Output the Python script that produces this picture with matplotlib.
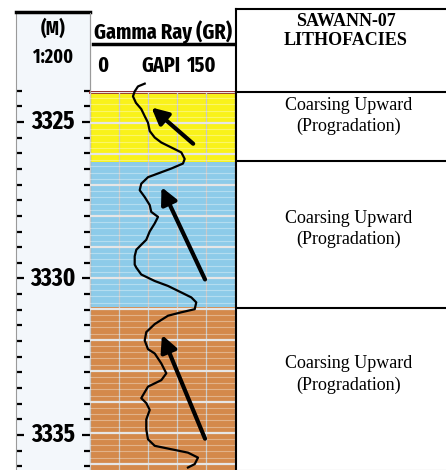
import os
import matplotlib
matplotlib.use('Agg')
import matplotlib.pyplot as plt
from matplotlib.lines import Line2D
from matplotlib import font_manager
import numpy as np

# figure size in pixels
W, H = 446, 470

# ---- data read from the log ----
# gamma ray curve (depth in m, value in GAPI)
gr_depth = [3323.73, 3323.82, 3323.98, 3324.14, 3324.35, 3324.55, 3324.78, 3324.99,
            3325.26, 3325.47, 3325.63, 3325.79, 3325.95, 3326.16, 3326.31, 3326.47,
            3326.59, 3326.75, 3326.96, 3327.17, 3327.39, 3327.65, 3327.87, 3328.03,
            3328.24, 3328.50, 3328.77, 3328.93, 3329.09, 3329.30, 3329.57, 3329.67,
            3329.89, 3330.10, 3330.26, 3330.47, 3330.63, 3330.79, 3331.01, 3331.11,
            3331.22, 3331.49, 3331.75, 3332.02, 3332.30, 3332.44, 3332.76, 3333.08,
            3333.30, 3333.51, 3333.88, 3334.04, 3334.26, 3334.57, 3334.89, 3335.21,
            3335.42, 3335.53, 3335.64, 3335.80, 3336.01, 3336.12]
gr_value = [56.8, 49.8, 46.4, 44.6, 47.7, 53.2, 56.8, 60.2,
            62.0, 67.2, 74.0, 84.4, 94.8, 98.3, 96.5, 84.4,
            74.0, 60.2, 53.2, 51.6, 56.8, 62.0, 63.6, 70.6,
            67.2, 62.0, 58.4, 53.2, 48.1, 46.4, 46.4, 48.1,
            53.2, 67.2, 81.0, 94.8, 105.2, 110.3, 108.7, 94.8,
            81.0, 67.2, 58.4, 56.8, 60.2, 67.2, 74.0, 79.2,
            74.0, 60.2, 53.2, 58.4, 62.0, 58.4, 58.4, 60.2,
            67.2, 84.4, 101.7, 112.1, 108.7, 101.7]

# lithofacies intervals
layer_top = [3324.0, 3326.25, 3330.95]
layer_base = [3326.25, 3330.95, 3336.2]
layer_color = ['#f9f21a', '#8dcbe9', '#d4894b']
facies_text = ['Coarsing Upward\n(Progradation)'] * 3

# trend arrows (tail -> tip)
arrow_tail_gr = [107.1, 119.4, 119.4]
arrow_tail_depth = [3325.67, 3330.05, 3335.19]
arrow_tip_gr = [63.8, 74.2, 74.7]
arrow_tip_depth = [3324.50, 3327.07, 3331.84]

depth_labels = [3325, 3330, 3335]
gr_min, gr_max = 0, 150
top_depth, bot_depth = 3324.04, 3336.12

serif = ['Liberation Serif', 'DejaVu Serif']


# the header text in the log is a narrow bold face, pick the narrowest bold one around
def _w(f):
    w = f.weight
    if isinstance(w, str):
        w = font_manager.weight_dict.get(w, 400)
    return int(w)


cond = [f for f in font_manager.fontManager.ttflist
        if (f.stretch != 'normal' or 'Narrow' in f.name or 'Condensed' in f.name)
        and f.style == 'normal']
cond.sort(key=lambda f: (abs(_w(f) - 700),
                         'extracond' not in os.path.basename(f.fname).lower().replace('-', ''),
                         'dejavu' not in f.fname.lower()))
if cond:
    NARROW_FILE = cond[0].fname
else:
    NARROW_FILE = font_manager.findfont(font_manager.FontProperties(family='Roboto', weight='bold'))


def nfont(size):
    return font_manager.FontProperties(fname=NARROW_FILE, size=size)


def box(x0, y0, x1, y1):
    return [x0 / W, 1 - y1 / H, (x1 - x0) / W, (y1 - y0) / H]


def fx(x):
    return x / W


def fy(y):
    return 1 - y / H


def fig_line(x, y, **kw):
    fig.add_artist(Line2D([fx(v) for v in x], [fy(v) for v in y],
                          transform=fig.transFigure, **kw))


fig = plt.figure(figsize=(W / 100, H / 100), dpi=100)
fig.patch.set_facecolor('white')
renderer = fig.canvas.get_renderer()


def fit(t, width):
    # scale a text to about the width it has in the log header
    # (a bit wider, the original face is narrower and taller than ours)
    bb = t.get_window_extent(renderer)
    t.set_fontsize(t.get_fontsize() * width * 1.08 / bb.width)
    return t.get_fontsize()


# ---- depth column ----
ax_dep = fig.add_axes(box(16, 12, 90, 470))
ax_dep.set_facecolor('#f3f7fb')
ax_dep.set_xlim(0, 1)
ax_dep.set_ylim(bot_depth, 3325 + (12 - 122) / 31.3)
ax_dep.set_yticks(depth_labels)
ax_dep.set_yticks(np.arange(3324, 3336.1, 0.5), minor=True)
ax_dep.set_xticks([])
ax_dep.tick_params(axis='y', which='both', left=True, right=True, direction='in',
                   labelleft=False, color='black', width=1.6)
ax_dep.tick_params(axis='y', which='major', length=6)
ax_dep.tick_params(axis='y', which='minor', length=4)
for s in ['left', 'right', 'bottom']:
    ax_dep.spines[s].set_color('#9a9a9a')
    ax_dep.spines[s].set_linewidth(0.8)
ax_dep.spines['bottom'].set_visible(False)
ax_dep.spines['top'].set_linewidth(2.5)
dep_txt = [ax_dep.text(0.5, d, str(d), transform=ax_dep.get_yaxis_transform(),
                       ha='center', va='center', fontproperties=nfont(16))
           for d in depth_labels]
size = fit(dep_txt[0], 40)
for t in dep_txt[1:]:
    t.set_fontsize(size)
fit(fig.text(fx(53.3), fy(29), '(M)', ha='center', va='center', fontproperties=nfont(13)), 23)
fit(fig.text(fx(53.3), fy(57), '1:200', ha='center', va='center', fontproperties=nfont(13)), 37)

# ---- gamma ray track ----
ax_trk = fig.add_axes(box(90, 92, 234.5, 470))
ax_trk.set_xlim(gr_min, gr_max)
ax_trk.set_ylim(bot_depth, top_depth)
for t, b, c in zip(layer_top, layer_base, layer_color):
    ax_trk.axhspan(t, b, color=c, lw=0, zorder=1)
ax_trk.set_xticks(np.arange(0, 151, 30))
ax_trk.set_yticks(np.arange(3324, 3337, 1))
ax_trk.set_yticks(np.arange(3324, 3336.3, 0.2), minor=True)
ax_trk.set_axisbelow(False)
ax_trk.grid(axis='x', which='major', color='#c9c9c9', lw=0.9)
ax_trk.grid(axis='y', which='major', color='#e6e6e6', lw=1.6)
ax_trk.grid(axis='y', which='minor', color='white', alpha=0.35, lw=0.8)
ax_trk.tick_params(which='both', length=0, labelleft=False, labelbottom=False)
ax_trk.spines['top'].set_color('#8b1a1a')
ax_trk.spines['top'].set_linewidth(2)
for s in ['left', 'right', 'bottom']:
    ax_trk.spines[s].set_color('#555555')
    ax_trk.spines[s].set_linewidth(0.8)
ax_trk.spines['bottom'].set_visible(False)

ax_trk.plot(gr_value, gr_depth, color='black', lw=1.6, zorder=4, clip_on=False)
for x0, y0, x1, y1 in zip(arrow_tail_gr, arrow_tail_depth, arrow_tip_gr, arrow_tip_depth):
    ax_trk.annotate('', xy=(x1, y1), xytext=(x0, y0), zorder=5,
                    arrowprops=dict(arrowstyle='-|>,head_length=0.7,head_width=0.35',
                                    lw=3.0, color='black', mutation_scale=14,
                                    shrinkA=0, shrinkB=0))

# track header
fit(fig.text(fx(162.5), fy(32), 'Gamma Ray (GR)', ha='center', va='center',
             fontproperties=nfont(15)), 129)
fig_line([93, 233], [44, 44], color='black', lw=2.5)
fig_line([90, 90], [13, 92], color='#9a9a9a', lw=0.8)
scale_txt = [fig.text(fx(102.5), fy(66), '0', ha='center', va='center', fontproperties=nfont(16)),
             fig.text(fx(160.5), fy(66), 'GAPI', ha='center', va='center', fontproperties=nfont(16)),
             fig.text(fx(202), fy(66), '150', ha='center', va='center', fontproperties=nfont(16))]
size = fit(scale_txt[1], 36)
for t in scale_txt:
    t.set_fontsize(size)

# ---- lithofacies column ----
ax_lit = fig.add_axes(box(236, 92, 446, 470))
ax_lit.set_xlim(0, 1)
ax_lit.set_ylim(bot_depth, top_depth)
ax_lit.set_xticks([])
ax_lit.set_yticks([])
ax_lit.spines['right'].set_visible(False)
ax_lit.spines['left'].set_linewidth(1.5)
ax_lit.spines['top'].set_linewidth(1.5)
ax_lit.spines['bottom'].set_color('#aaaaaa')
for b in layer_base[:-1]:
    ax_lit.axhline(b, color='black', lw=1.5)
text_pos = [0.345, 0.462, 0.41]
for t, b, txt, p in zip(layer_top, layer_base, facies_text, text_pos):
    t = max(t, top_depth)
    b = min(b, bot_depth)
    ax_lit.text(0.535, t + p * (b - t), txt, ha='center', va='center', fontsize=13,
                family=serif, linespacing=1.3)

fig_line([236, 446], [9, 9], color='black', lw=1.5)
fig_line([236, 236], [9, 92], color='black', lw=1.5)
fig.text(fx(346), fy(31), 'SAWANN-07\nLITHOFACIES', ha='center', va='center',
         fontsize=13, fontweight='bold', family=serif, linespacing=1.2)

fig.savefig('out.png', dpi=100)
